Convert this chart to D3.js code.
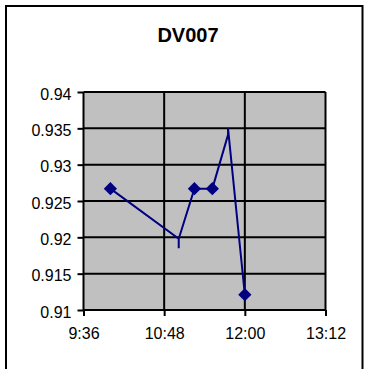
<!DOCTYPE html>
<html>
<head>
<meta charset="utf-8">
<script src="https://cdn.jsdelivr.net/npm/d3@7"></script>
<style>
  html, body { margin: 0; padding: 0; background: #fff; }
  svg { display: block; font-family: Arial, "Liberation Sans", sans-serif; }
</style>
</head>
<body>
<svg id="chart" width="367" height="369"></svg>
<script>
// Readings for DV007 (time of day, measured value)
const times  = ["10:00", "11:01", "11:01", "11:01", "11:15", "11:31", "11:45", "11:45", "12:00"];
const values = [0.9267, 0.9198, 0.9185, 0.9198, 0.9267, 0.9267, 0.9341, 0.9350, 0.9121];
const showMarker = [true, false, false, false, true, true, false, false, true];

const xTickLabels = ["9:36", "10:48", "12:00", "13:12"];
const yTickValues = [0.91, 0.915, 0.92, 0.925, 0.93, 0.935, 0.94];
const title = "DV007";

const toMinutes = s => { const [h, m] = s.split(":").map(Number); return h * 60 + m; };
const fmtTime = m => `${Math.floor(m / 60)}:${String(m % 60).padStart(2, "0")}`;

const points = times.map((t, i) => ({ t: toMinutes(t), v: values[i], mark: showMarker[i] }));
const xTicks = xTickLabels.map(toMinutes);

const svg = d3.select("#chart");
const W = 367, H = 369;
const plot = { left: 83.5, right: 325.5, top: 92, bottom: 310 };

// Chart frame
svg.append("rect").attr("x", 6).attr("y", 6).attr("width", 356.5).attr("height", H + 10)
  .attr("fill", "#fff").attr("stroke", "#000").attr("stroke-width", 2);

// Title
svg.append("text").attr("x", 188).attr("y", 41.5).attr("text-anchor", "middle")
  .attr("font-size", 20).attr("font-weight", "bold").text(title);

const x = d3.scaleLinear().domain([xTicks[0], xTicks[xTicks.length - 1]]).range([plot.left, plot.right]);
const y = d3.scaleLinear().domain([0.91, 0.94]).range([plot.bottom, plot.top]);

// Plot area
svg.append("rect").attr("x", plot.left).attr("y", plot.top)
  .attr("width", plot.right - plot.left).attr("height", plot.bottom - plot.top)
  .attr("fill", "#c0c0c0");

// Gridlines
svg.append("g").selectAll("line").data(yTickValues).join("line")
  .attr("x1", plot.left).attr("x2", plot.right)
  .attr("y1", d => y(d)).attr("y2", d => y(d))
  .attr("stroke", "#000").attr("stroke-width", 2);
svg.append("g").selectAll("line").data(xTicks.slice(1)).join("line")
  .attr("x1", d => x(d)).attr("x2", d => x(d))
  .attr("y1", plot.top).attr("y2", plot.bottom)
  .attr("stroke", "#000").attr("stroke-width", 2);

// Axes
const yAxis = d3.axisLeft(y).tickValues(yTickValues).tickSize(6).tickPadding(6)
  .tickFormat(d => String(+d.toFixed(3)));
const gy = svg.append("g").attr("transform", `translate(${plot.left},0)`).call(yAxis);
gy.select(".domain").attr("stroke", "#000").attr("stroke-width", 2).attr("d", `M0,${plot.top}V${plot.bottom}`);
gy.selectAll(".tick line").attr("stroke", "#000").attr("stroke-width", 2);
gy.selectAll(".tick text").attr("font-size", 16).attr("fill", "#000")
  .attr("font-family", "Arial, 'Liberation Sans', sans-serif").attr("dy", "0.45em");

const xAxis = d3.axisBottom(x).tickValues(xTicks).tickSize(6).tickPadding(12).tickFormat(fmtTime);
const gx = svg.append("g").attr("transform", `translate(0,${plot.bottom})`).call(xAxis);
gx.select(".domain").attr("stroke", "#000").attr("stroke-width", 2).attr("d", `M${plot.left},0H${plot.right}`);
gx.selectAll(".tick line").attr("stroke", "#000").attr("stroke-width", 2);
gx.selectAll(".tick text").attr("font-size", 16).attr("fill", "#000")
  .attr("font-family", "Arial, 'Liberation Sans', sans-serif");

// Series line
const line = d3.line().x(d => x(d.t)).y(d => y(d.v));
svg.append("path").datum(points).attr("d", line)
  .attr("fill", "none").attr("stroke", "#000080").attr("stroke-width", 2)
  .attr("stroke-linejoin", "miter");

// Diamond markers
const diamond = d3.symbol().type(d3.symbolDiamond2).size(112);
svg.append("g").selectAll("path").data(points.filter(d => d.mark)).join("path")
  .attr("transform", d => `translate(${x(d.t)},${y(d.v)})`)
  .attr("d", diamond).attr("fill", "#000080");
</script>
</body>
</html>
